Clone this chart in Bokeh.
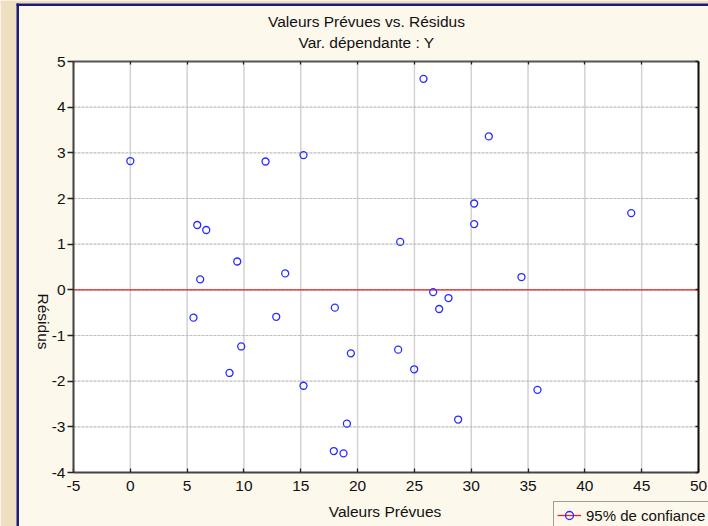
import math
from bokeh.plotting import figure
from bokeh.models import (Range1d, BoxAnnotation, Label, LinearAxis, Legend,
                          LegendItem, FixedTicker)
from bokeh.embed import file_html
from bokeh.resources import INLINE

# Predicted values (x) and residuals (y)
predicted = [0.0, 5.89, 6.68, 6.15, 5.56, 9.41, 11.90, 15.24, 13.63, 25.80,
             31.55, 30.26, 30.26, 23.75, 26.65, 28.00, 27.18, 18.00, 34.42, 44.08,
             9.76, 12.84, 8.73, 19.41, 23.57, 24.98, 15.24, 35.83, 19.06, 17.91,
             18.76, 28.85]
residuals = [2.82, 1.42, 1.31, 0.23, -0.61, 0.62, 2.81, 2.95, 0.36, 4.62,
             3.36, 1.89, 1.44, 1.05, -0.05, -0.18, -0.42, -0.39, 0.28, 1.68,
             -1.24, -0.59, -1.82, -1.39, -1.31, -1.74, -2.10, -2.19, -2.93, -3.53,
             -3.58, -2.84]

# Reference line (residual = 0) across the x range
ref_x = [-5, 50]
ref_y = [0, 0]

x_ticks = [-5, 0, 5, 10, 15, 20, 25, 30, 35, 40, 45, 50]
y_ticks = [-4, -3, -2, -1, 0, 1, 2, 3, 4, 5]

title_text = "Valeurs Prévues vs. Résidus"
subtitle_text = "Var. dépendante : Y"
x_label = "Valeurs Prévues"
y_label = "Résidus"
legend_label = "95% de confiance"

# Canvas size and plot-area edges (pixels)
W, H = 708, 526
FL, FR, FT, FB = 73, 698, 61, 472
X0, X1 = -5, 50
Y0, Y1 = -4, 5

FONT = "Liberation Sans"
FSIZE = "15.5px"
PARCHMENT = "#eedfc0"
PANEL = "#fdf8ec"
NAVY = "#1c1c7c"
TEXT = "#111111"


def px_x(px):
    return X0 + (px - FL) * (X1 - X0) / (FR - FL)


def px_y(py):
    return Y1 - (py - FT) * (Y1 - Y0) / (FB - FT)


# The frame covers the whole canvas; axes sit at fixed data locations
p = figure(width=W, height=H,
           x_range=Range1d(px_x(0), px_x(W)), y_range=Range1d(px_y(H), px_y(0)),
           output_backend="svg", toolbar_location=None,
           min_border=0, min_border_left=0, min_border_right=0,
           min_border_top=0, min_border_bottom=0,
           x_axis_location=None, y_axis_location=None)
p.background_fill_color = PANEL
p.border_fill_color = PANEL
p.outline_line_color = None
p.grid.visible = False

# white plotting area
p.quad(left=[X0], right=[X1], bottom=[Y0], top=[Y1], fill_color="white",
       line_color=None, level="image")

# grid lines at the tick positions
p.segment(x0=x_ticks, y0=[Y0] * len(x_ticks), x1=x_ticks, y1=[Y1] * len(x_ticks),
          line_color="#d2d2d2", line_width=1.5, level="underlay")
p.segment(x0=[X0] * len(y_ticks), y0=y_ticks, x1=[X1] * len(y_ticks), y1=y_ticks,
          line_color="#bdbdbd", line_width=1.2, line_dash="3 1", level="underlay")


def make_axis(ticks, bounds, loc, show_labels, tick_in, tick_out, standoff, color):
    ax = LinearAxis(ticker=FixedTicker(ticks=ticks), bounds=bounds, fixed_location=loc)
    ax.minor_tick_line_color = None
    ax.axis_line_color = color
    ax.axis_line_width = 2
    ax.major_tick_line_color = "#222222"
    ax.major_tick_line_width = 1.3
    ax.major_tick_in = tick_in
    ax.major_tick_out = tick_out
    ax.major_label_standoff = standoff
    ax.major_label_text_font = FONT
    ax.major_label_text_font_size = FSIZE
    ax.major_label_overrides = {t: str(t) for t in ticks}
    ax.major_label_text_color = TEXT if show_labels else None
    return ax


p.add_layout(make_axis(x_ticks, (X0, X1), Y0, True, 4, 0, 8, "#444444"), "below")
p.add_layout(make_axis(y_ticks, (Y0, Y1), X0, True, 0, 6, 2, "#444444"), "left")
p.add_layout(make_axis(x_ticks, (X0, X1), Y1, False, 3, 0, 0, "#555555"), "above")
p.add_layout(make_axis(y_ticks, (Y0, Y1), X1, False, 3, 0, 0, "#111111"), "right")

# data
r_line = p.line(ref_x, ref_y, line_color="#ea1f1f", line_width=1.3)
r_pts = p.scatter(predicted, residuals, marker="circle", size=7,
                  fill_color=None, line_color="#2b2bff", line_width=1.3)

# parchment margin and navy panel border
p.add_layout(BoxAnnotation(right=px_x(16.5), fill_color=PARCHMENT, fill_alpha=1,
                           line_color=None))
p.add_layout(BoxAnnotation(bottom=px_y(3.5), fill_color=PARCHMENT, fill_alpha=1,
                           line_color=None))
p.add_layout(BoxAnnotation(left=px_x(16), right=px_x(18.5), top=px_y(3),
                           fill_color=NAVY, fill_alpha=1, line_color=None))
p.add_layout(BoxAnnotation(left=px_x(16), bottom=px_y(5.5), top=px_y(3),
                           fill_color=NAVY, fill_alpha=1, line_color=None))

# titles and axis names
for txt, py in ((title_text, 21), (subtitle_text, 42)):
    p.add_layout(Label(x=px_x(366), y=px_y(py), text=txt, text_align="center",
                       text_baseline="middle", text_font=FONT, text_font_size=FSIZE,
                       text_color=TEXT))

p.add_layout(Label(x=px_x(384.5), y=px_y(511), text=x_label, text_align="center",
                   text_baseline="middle", text_font=FONT, text_font_size=FSIZE,
                   text_color=TEXT))
p.add_layout(Label(x=px_x(43), y=px_y(321), text=y_label, text_align="center",
                   text_baseline="middle", angle=-math.pi / 2, text_font=FONT,
                   text_font_size=FSIZE, text_color=TEXT))

# legend box in the lower right corner
legend = Legend(items=[LegendItem(label=legend_label, renderers=[r_line, r_pts])],
                location=(553, H - 503 - 26))
legend.padding = 3
legend.margin = 0
legend.glyph_width = 24
legend.glyph_height = 20
legend.label_height = 20
legend.label_standoff = 5
legend.label_text_font = FONT
legend.label_text_font_size = "15px"
legend.label_text_color = TEXT
legend.border_line_color = "#444444"
legend.border_line_width = 1
legend.background_fill_color = PANEL
legend.background_fill_alpha = 1
p.add_layout(legend)

open("out.html", "w").write(file_html(p, INLINE))
